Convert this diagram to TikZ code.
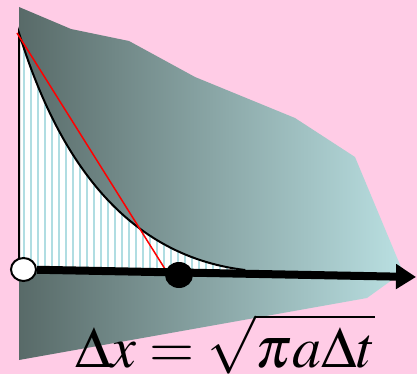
\documentclass[tikz,border=0pt]{standalone}
\usepackage{mathptmx}
\usetikzlibrary{arrows.meta,shapes.geometric}

\definecolor{bgpink}{RGB}{255,204,230}
\definecolor{slatedark}{RGB}{88,106,104}
\definecolor{slatemid}{RGB}{124,150,149}
\definecolor{slatelight}{RGB}{186,224,226}
\definecolor{hatchblue}{RGB}{176,221,226}

\tikzset{
  opendot/.style={ellipse,draw=black,fill=white,line width=2pt,inner sep=0pt,minimum width=25pt,minimum height=23pt},
  fulldot/.style={ellipse,fill=black,inner sep=0pt,minimum width=28pt,minimum height=26pt},
  axisline/.style={line width=8pt,-{Triangle[length=20pt 0,width=24pt 0]}}
}

\begin{document}
\begin{tikzpicture}[x=1pt,y=-1pt]
\fill[bgpink] (0,0) rectangle (417,374);
\useasboundingbox (0,0) rectangle (417,374);

% shaded sheet
\shade[left color=slatedark,middle color=slatemid,right color=slatelight] (19,7) -- (71,29) -- (129,41) -- (195,77) -- (295,118) -- (355,157) -- (403,272) -- (367,298) -- (19,360) -- cycle;

% profile with hatching underneath
\fill[white] (19,270) -- (19,33) .. controls (55,150) and (120,255) .. (245,270) -- cycle;
\begin{scope}
\clip (19,270) -- (19,33) .. controls (55,150) and (120,255) .. (245,270) -- cycle;
\foreach \x in {24,31,...,248}
  \draw[hatchblue,line width=1.5pt] (\x,25) -- (\x,275);
\end{scope}
\draw[line width=2pt] (19,270) -- (19,33) .. controls (55,150) and (120,255) .. (245,270);

% tangent
\coordinate (slopetop) at (17,33);
\coordinate (slopefoot) at (165,269);
\draw[red,line width=1.5pt] (slopetop) -- (slopefoot);

% axis and the two points
\node[opendot] (origin) at (23.5,269.5) {};
\node[fulldot] (front) at (179,275) {};
\coordinate (tip) at (416,277);
\draw[axisline] (origin) -- (tip);

\node[anchor=base west,inner sep=0pt,font=\fontsize{58}{58}\selectfont] (law) at (75,367) {$\Delta x=\sqrt{\pi a\Delta t}$};
\end{tikzpicture}
\end{document}
